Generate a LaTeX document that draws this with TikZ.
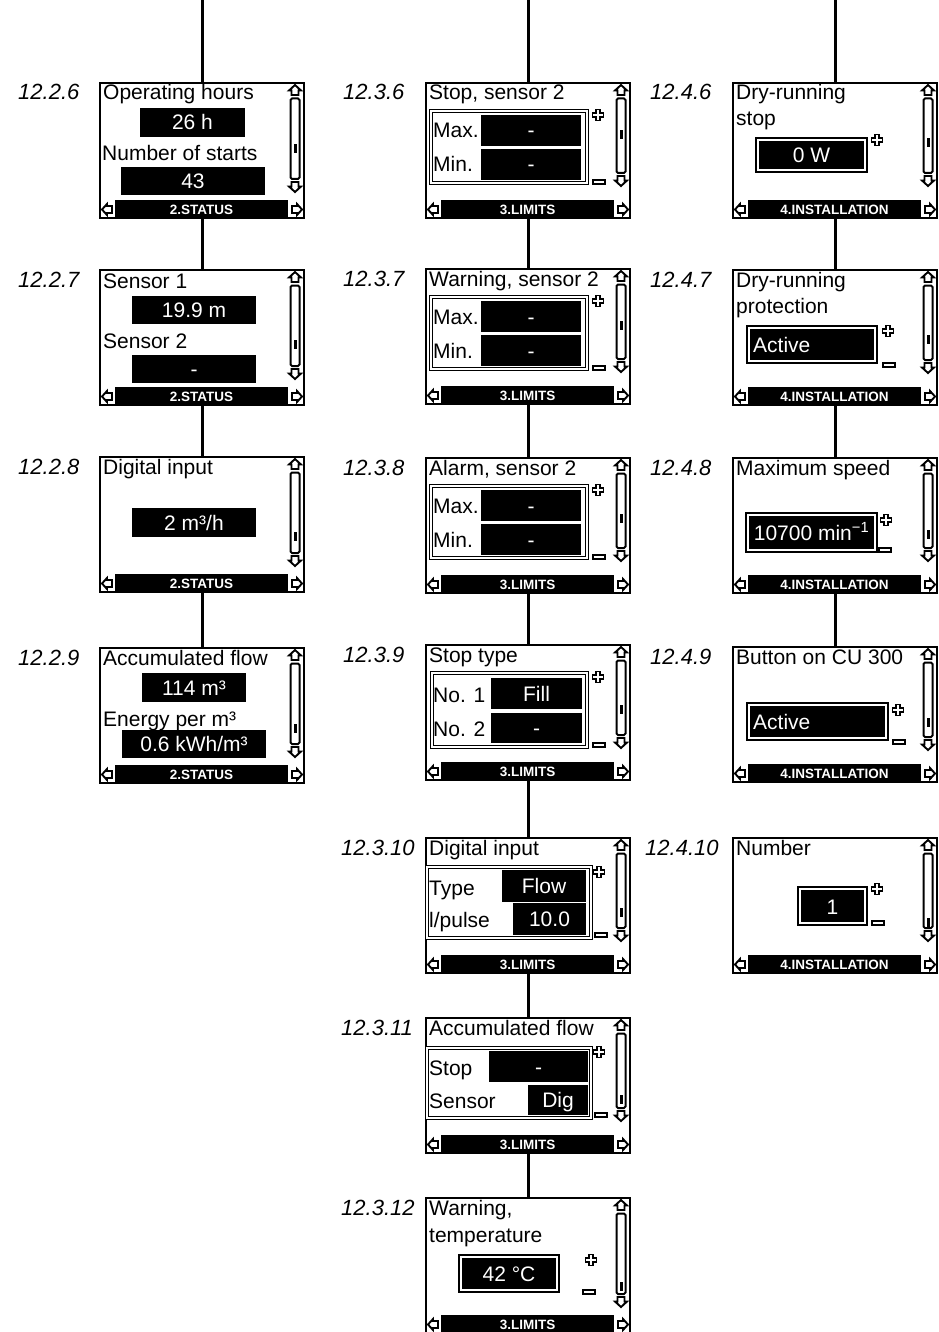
\documentclass[tikz,border=0pt]{standalone}
\usepackage{fontspec}
\setmainfont{Liberation Sans}
\tikzset{
 screen/.style={draw, line width=2pt, fill=white, minimum width=204pt, minimum height=135pt, inner sep=0pt, outer sep=0pt, anchor=north west},
 conn/.style={line width=3pt},
 lcd/.style={font=\fontsize{21}{21}\selectfont, inner sep=0pt, anchor=base west},
 lcdval/.style={font=\fontsize{21}{21}\selectfont, inner sep=0pt, text=white},
 barlbl/.style={font=\bfseries\fontsize{13.5}{14}\selectfont, text=white, inner sep=0pt, anchor=base},
 numlbl/.style={font=\itshape\fontsize{22}{22}\selectfont, inner sep=0pt, anchor=base west},
 icon/.style={line width=1.9pt, fill=white, line join=miter},
 sbar/.style={line width=2pt, rounded corners=1.5pt},
 dframe/.style={draw, double=white, double distance=1.2pt, line width=1pt},
}
\newcommand\lcdscreen[6]{%
 \node[screen] (#1) at (#2,#3) {};
 \begin{scope}[shift={(#1.north west)}]
  \fill (15,117) rectangle (188,135);
  \node[barlbl] at (101.5,131.5) {#4};
  \draw[sbar] (190.5,15.5) rectangle (199.5,#6);
  \fill (193.5,#5) rectangle (196.5,{#5+9});
  \draw[icon] (195,2) -- (201,7.5) -- (198.5,7.5) -- (198.5,12) -- (191.5,12) -- (191.5,7.5) -- (189,7.5) -- cycle;
  \draw[icon] (195,{#6+13}) -- (201,{#6+7.5}) -- (198.5,{#6+7.5}) -- (198.5,{#6+3}) -- (191.5,{#6+3}) -- (191.5,{#6+7.5}) -- (189,{#6+7.5}) -- cycle;
  \draw[icon] (2,126.5) -- (7,121) -- (7,123) -- (12,123) -- (12,130) -- (7,130) -- (7,132) -- cycle;
  \draw[icon] (202,126.5) -- (197,121) -- (197,123) -- (192,123) -- (192,130) -- (197,130) -- (197,132) -- cycle;
 \end{scope}}
\newcommand\lcdplus[2]{\draw[icon] ({#1-2},{#2-5.5}) -- ({#1+2},{#2-5.5}) -- ({#1+2},{#2-2}) -- ({#1+5.5},{#2-2}) -- ({#1+5.5},{#2+2}) -- ({#1+2},{#2+2}) -- ({#1+2},{#2+5.5}) -- ({#1-2},{#2+5.5}) -- ({#1-2},{#2+2}) -- ({#1-5.5},{#2+2}) -- ({#1-5.5},{#2-2}) -- ({#1-2},{#2-2}) -- cycle;}
\newcommand\lcdminus[2]{\draw[icon] ({#1-6},{#2-2}) rectangle ({#1+6},{#2+2});}
\newcommand\lcdbox[5]{\fill (#1,#2) rectangle (#3,#4); \node[lcdval, anchor=base] at ({(#1+#3)/2},{(#2+#4)/2+7.5}) {#5};}
\newcommand\lcddbox[4]{\draw[line width=1.3pt] (#1,#2) rectangle (#3,#4); \fill ({#1+3},{#2+3}) rectangle ({#3-3},{#4-3});}
\begin{document}
\begin{tikzpicture}[x=1pt,y=-1pt]
\useasboundingbox (0,0) rectangle (938,1332);
% ---------- column 1 ----------
\lcdscreen{s226}{100}{83}{2.STATUS}{61}{96}
\begin{scope}[shift={(s226.north west)}]
 \node[lcd] (t226a) at (3,17) {Operating hours};
 \lcdbox{40}{25}{145}{54}{26 h}
 \node[lcd] (t226b) at (2,78) {Number of starts};
 \lcdbox{21}{84}{165}{112}{43}
\end{scope}
\lcdscreen{s227}{100}{270}{2.STATUS}{70}{96}
\begin{scope}[shift={(s227.north west)}]
 \node[lcd] (t227a) at (3,18) {Sensor 1};
 \lcdbox{32}{26}{156}{54}{19.9 m}
 \node[lcd] (t227b) at (3,78) {Sensor 2};
 \lcdbox{32}{85}{156}{113}{-}
\end{scope}
\lcdscreen{s228}{100}{457}{2.STATUS}{75}{96}
\begin{scope}[shift={(s228.north west)}]
 \node[lcd] (t228a) at (3,17) {Digital input};
 \lcdbox{32}{51}{156}{80}{2 m³/h}
\end{scope}
\lcdscreen{s229}{100}{648}{2.STATUS}{76}{96}
\begin{scope}[shift={(s229.north west)}]
 \node[lcd] (t229a) at (3,17) {Accumulated flow};
 \lcdbox{42}{25}{146}{54}{114 m³}
 \node[lcd] (t229b) at (3,78) {Energy per m³};
 \lcdbox{22}{82}{166}{110}{0.6 kWh/m³}
\end{scope}
% ---------- column 2 ----------
\lcdscreen{s236}{426}{83}{3.LIMITS}{47}{90}
\begin{scope}[shift={(s236.north west)}]
 \node[lcd] (t236a) at (3,17) {Stop, sensor 2};
 \draw[dframe] (5,28) rectangle (161,100);
 \lcdbox{55}{32}{155}{63}{-}
 \lcdbox{55}{66}{155}{97}{-}
 \node[lcd] (t236b) at (7,55) {Max.};
 \node[lcd] (t236c) at (7,89) {Min.};
 \lcdplus{172}{32}
 \lcdminus{173}{99}
\end{scope}
\lcdscreen{s237}{426}{269}{3.LIMITS}{52}{90}
\begin{scope}[shift={(s237.north west)}]
 \node[lcd] (t237a) at (3,17) {Warning, sensor 2};
 \draw[dframe] (5,28) rectangle (161,100);
 \lcdbox{55}{32}{155}{63}{-}
 \lcdbox{55}{66}{155}{97}{-}
 \node[lcd] (t237b) at (7,55) {Max.};
 \node[lcd] (t237c) at (7,89) {Min.};
 \lcdplus{172}{32}
 \lcdminus{173}{99}
\end{scope}
\lcdscreen{s238}{426}{458}{3.LIMITS}{56}{90}
\begin{scope}[shift={(s238.north west)}]
 \node[lcd] (t238a) at (3,17) {Alarm, sensor 2};
 \draw[dframe] (5,28) rectangle (161,100);
 \lcdbox{55}{32}{155}{63}{-}
 \lcdbox{55}{66}{155}{97}{-}
 \node[lcd] (t238b) at (7,55) {Max.};
 \node[lcd] (t238c) at (7,89) {Min.};
 \lcdplus{172}{32}
 \lcdminus{173}{99}
\end{scope}
\lcdscreen{s239}{426}{645}{3.LIMITS}{60}{90}
\begin{scope}[shift={(s239.north west)}]
 \node[lcd] (t239a) at (3,17) {Stop type};
 \draw[dframe] (6,28) rectangle (161,102);
 \lcdbox{65}{33}{156}{64}{Fill}
 \lcdbox{65}{68}{156}{98}{-}
 \node[lcd] (t239b) at (7,57) {No. 1};
 \node[lcd] (t239c) at (7,91) {No. 2};
 \lcdplus{172}{32}
 \lcdminus{173}{100}
\end{scope}
\lcdscreen{s2310}{426}{838}{3.LIMITS}{70}{90}
\begin{scope}[shift={(s2310.north west)}]
 \node[lcd] (t2310a) at (3,17) {Digital input};
 \draw[dframe] (1,29) rectangle (165,100);
 \lcdbox{76}{32}{160}{64}{Flow}
 \lcdbox{87}{65}{160}{97}{10.0}
 \node[lcd] (t2310b) at (3,57) {Type};
 \node[lcd] (t2310c) at (3,89) {l/pulse};
 \lcdplus{173}{34}
 \lcdminus{175}{97}
\end{scope}
\lcdscreen{s2311}{426}{1018}{3.LIMITS}{77}{90}
\begin{scope}[shift={(s2311.north west)}]
 \node[lcd] (t2311a) at (3,17) {Accumulated flow};
 \draw[dframe] (1,30) rectangle (165,100);
 \lcdbox{63}{33}{162}{64}{-}
 \lcdbox{102}{67}{162}{97}{Dig}
 \node[lcd] (t2311b) at (3,57) {Stop};
 \node[lcd] (t2311c) at (3,90) {Sensor};
 \lcdplus{173}{34}
 \lcdminus{175}{97}
\end{scope}
\lcdscreen{s2312}{426}{1198}{3.LIMITS}{84}{96}
\begin{scope}[shift={(s2312.north west)}]
 \node[lcd] (t2312a) at (3,17) {Warning,};
 \node[lcd] (t2312b) at (3,44) {temperature};
 \lcddbox{33}{57}{133}{94}
 \node[lcdval, anchor=base] (t2312c) at (83,83) {42 °C};
 \lcdplus{165}{62}
 \lcdminus{163}{94}
\end{scope}
% ---------- column 3 ----------
\lcdscreen{s246}{733}{83}{4.INSTALLATION}{55}{90}
\begin{scope}[shift={(s246.north west)}]
 \node[lcd] (t246a) at (3,17) {Dry-running};
 \node[lcd] (t246b) at (3,43) {stop};
 \lcddbox{23}{55}{134}{89}
 \node[lcdval, anchor=base] (t246c) at (78.5,79.5) {0 W};
 \lcdplus{144}{57}
\end{scope}
\lcdscreen{s247}{733}{270}{4.INSTALLATION}{65}{90}
\begin{scope}[shift={(s247.north west)}]
 \node[lcd] (t247a) at (3,17) {Dry-running};
 \node[lcd] (t247b) at (3,43) {protection};
 \lcddbox{14}{56}{144}{93}
 \node[lcdval, anchor=base west] (t247c) at (20,82) {Active};
 \lcdplus{155}{61}
 \lcdminus{156}{95}
\end{scope}
\lcdscreen{s248}{733}{458}{4.INSTALLATION}{72}{90}
\begin{scope}[shift={(s248.north west)}]
 \node[lcd] (t248a) at (3,17) {Maximum speed};
 \lcddbox{13}{55}{144}{94}
 \node[lcdval, anchor=base] (t248c) at (78.5,82) {10700 min\textsuperscript{−1}};
 \lcdplus{153}{62}
 \lcdminus{152}{92}
\end{scope}
\lcdscreen{s249}{733}{647}{4.INSTALLATION}{71}{90}
\begin{scope}[shift={(s249.north west)}]
 \node[lcd] (t249a) at (3,17) {Button on CU 300};
 \lcddbox{14}{56}{155}{93}
 \node[lcdval, anchor=base west] (t249c) at (20,82) {Active};
 \lcdplus{165}{63}
 \lcdminus{166}{95}
\end{scope}
\lcdscreen{s2410}{733}{838}{4.INSTALLATION}{80}{90}
\begin{scope}[shift={(s2410.north west)}]
 \node[lcd] (t2410a) at (3,17) {Number};
 \lcddbox{65}{49}{134}{87}
 \node[lcdval, anchor=base] (t2410c) at (99.5,76) {1};
 \lcdplus{144}{51}
 \lcdminus{145}{85}
\end{scope}
% ---------- labels ----------
\node[numlbl] (l226) at (18,100) {12.2.6};
\node[numlbl] (l227) at (18,287) {12.2.7};
\node[numlbl] (l228) at (18,474) {12.2.8};
\node[numlbl] (l229) at (18,665) {12.2.9};
\node[numlbl] (l236) at (343,100) {12.3.6};
\node[numlbl] (l237) at (343,286) {12.3.7};
\node[numlbl] (l238) at (343,475) {12.3.8};
\node[numlbl] (l239) at (343,662) {12.3.9};
\node[numlbl] (l2310) at (341,855) {12.3.10};
\node[numlbl] (l2311) at (341,1035) {12.3.11};
\node[numlbl] (l2312) at (341,1215) {12.3.12};
\node[numlbl] (l246) at (650,100) {12.4.6};
\node[numlbl] (l247) at (650,287) {12.4.7};
\node[numlbl] (l248) at (650,475) {12.4.8};
\node[numlbl] (l249) at (650,664) {12.4.9};
\node[numlbl] (l2410) at (645,855) {12.4.10};
% ---------- connectors ----------
\coordinate (c1) at (202,0);
\coordinate (c2) at (528,0);
\coordinate (c3) at (835,0);
\draw[conn] (c1) -- (s226.north);
\draw[conn] (s226.south) -- (s227.north);
\draw[conn] (s227.south) -- (s228.north);
\draw[conn] (s228.south) -- (s229.north);
\draw[conn] (c2) -- (s236.north);
\draw[conn] (s236.south) -- (s237.north);
\draw[conn] (s237.south) -- (s238.north);
\draw[conn] (s238.south) -- (s239.north);
\draw[conn] (s239.south) -- (s2310.north);
\draw[conn] (s2310.south) -- (s2311.north);
\draw[conn] (s2311.south) -- (s2312.north);
\draw[conn] (c3) -- (s246.north);
\draw[conn] (s246.south) -- (s247.north);
\draw[conn] (s247.south) -- (s248.north);
\draw[conn] (s248.south) -- (s249.north);
\end{tikzpicture}
\end{document}
